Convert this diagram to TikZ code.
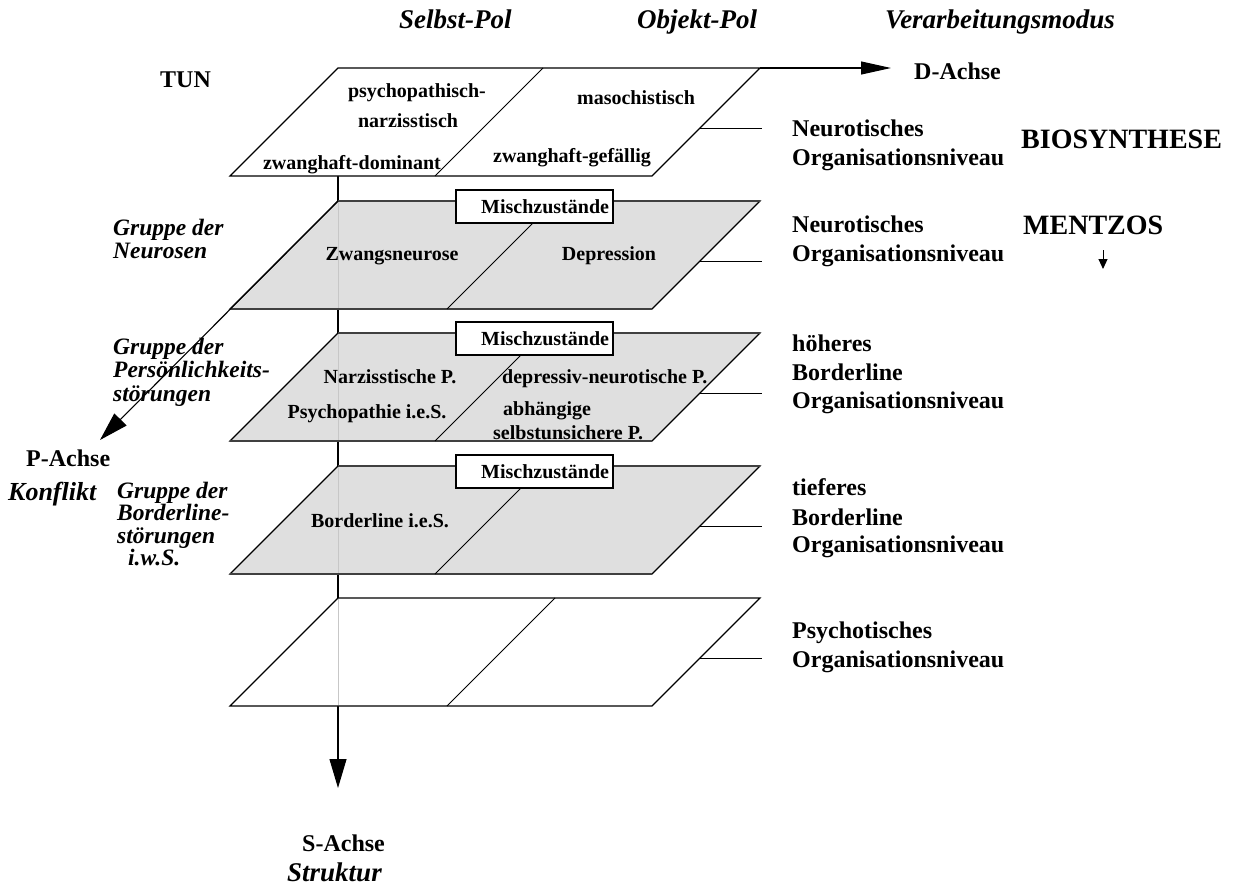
\documentclass[tikz,border=0pt]{standalone}
\usepackage{fontspec}
\setmainfont{Liberation Serif}
\usetikzlibrary{arrows.meta}
\begin{document}
\begin{tikzpicture}[x=1pt,y=-1pt,
  outline/.style={draw=black,line width=1.1pt,line join=miter},
  rim/.style={draw=black!75,line width=1.8pt},
  divline/.style={draw=black,line width=1pt},
  seethrough/.style={draw=black!22,line width=1pt},
  axisarrow/.style={draw=black,line width=1.1pt,-{Triangle[length=29pt,width=17pt]}},
  daxis/.style={draw=black,line width=1.1pt,-{Triangle[length=30pt,width=13pt]}},
  smallarrow/.style={draw=black,line width=1pt,-{Triangle[length=10pt,width=9pt]}},
  leader/.style={draw=black,line width=1pt},
  mbox/.style={draw=black,line width=1.2pt,fill=white,minimum width=157pt,minimum height=33pt,text width=149pt,align=right,inner sep=4pt,font=\fontsize{20}{23}\selectfont\bfseries},
  ptext/.style={font=\fontsize{20}{23}\selectfont\bfseries,anchor=base,inner sep=0pt},
  ptextw/.style={font=\fontsize{20}{23}\selectfont\bfseries,anchor=base west,inner sep=0pt},
  rlabel/.style={font=\fontsize{24}{28}\selectfont\bfseries,anchor=base west,inner sep=0pt},
  glabel/.style={font=\fontsize{23.5}{23}\selectfont\bfseries\itshape,anchor=base west,inner sep=0pt},
  biglabel/.style={font=\fontsize{28}{30}\selectfont\bfseries,anchor=base west,inner sep=0pt},
  axlabel/.style={font=\fontsize{27}{30}\selectfont\bfseries\itshape,anchor=base west,inner sep=0pt}
]
\useasboundingbox (0,0) rectangle (1233,888);

% plane geometry
\foreach \k/\t/\d in {1/68/435,2/201/447,3/333/435,4/466/435,5/598/447}{
  \coordinate (tl\k) at (338,\t);
  \coordinate (tr\k) at (760,\t);
  \coordinate (br\k) at (652,\t+108);
  \coordinate (bl\k) at (230,\t+108);
  \coordinate (db\k) at (\d,\t+108);
  \coordinate (dt\k) at (\d+108,\t);
  \coordinate (ls\k) at (700,\t+60);
  \coordinate (le\k) at (762,\t+60);
}
\coordinate (stip) at (338,788);
\coordinate (ptip) at (100,440);
\coordinate (dtip) at (891,68);

% S axis (behind the planes)
\draw[axisarrow] (tl1 |- bl1) -- (stip);

% planes
\foreach \k/\f in {1/white,2/gray!25,3/gray!25,4/gray!25,5/white}{
  \filldraw[outline,fill=\f] (tl\k) -- (tr\k) -- (br\k) -- (bl\k) -- cycle;
}
\foreach \k in {2,3,4}{
  \draw[rim] (tl\k) -- (tr\k);
  \draw[rim] (bl\k) -- (br\k);
}
\foreach \k in {2,3,4,5}{
  \draw[seethrough] ([yshift=-1pt]tl\k) -- ([yshift=1pt]tl\k |- bl\k);
}
\foreach \k in {1,...,5}{
  \draw[divline] (db\k) -- (dt\k);
  \draw[leader] (ls\k) -- (le\k);
}

% P and D axes
\draw[axisarrow] (tl2) -- (ptip);
\draw[daxis] (tr1) -- (dtip);

% Mischzustaende boxes
\foreach \k/\t in {2/201,3/333,4/466}{
  \node[mbox] (mz\k) at (534.5,\t+5.5) {Mischzustände};
}

% headers
\node[axlabel] (hself) at (399,29) {Selbst-Pol};
\node[axlabel] (hobj) at (637,29) {Objekt-Pol};
\node[axlabel] (hmod) at (885,29) {Verarbeitungsmodus};

% plane 1 texts
\node[ptext] (t1a) at (417,98) {psychopathisch-};
\node[ptext] (t1b) at (408,128) {narzisstisch};
\node[ptext] (t1c) at (352,169) {zwanghaft-dominant};
\node[ptext] (t1d) at (636,105) {masochistisch};
\node[ptext] (t1e) at (572,162) {zwanghaft-gefällig};

% plane 2 texts
\node[ptext] (t2a) at (392,260) {Zwangsneurose};
\node[ptext] (t2b) at (609,260) {Depression};

% plane 3 texts
\node[ptext] (t3a) at (390,383) {Narzisstische P.};
\node[ptext] (t3b) at (367,418) {Psychopathie i.e.S.};
\node[ptextw] (t3c) at (502,383) {depressiv-neurotische P.};
\node[ptextw] (t3d) at (503,415) {abhängige};
\node[ptextw] (t3e) at (493,439) {selbstunsichere P.};

% plane 4 texts
\node[ptext] (t4a) at (380,527) {Borderline i.e.S.};

% left labels
\node[rlabel] (tun) at (160,88) {TUN};
\node[glabel] (g1a) at (113,235) {Gruppe der};
\node[glabel] (g1b) at (113,258) {Neurosen};
\node[glabel] (g2a) at (113,354) {Gruppe der};
\node[glabel] (g2b) at (113,377) {Persönlichkeits-};
\node[glabel] (g2c) at (113,401) {störungen};
\node[rlabel] (pach) at (26,466) {P-Achse};
\node[axlabel,font=\fontsize{26}{30}\selectfont\bfseries\itshape] (konf) at (8,500) {Konflikt};
\node[glabel] (g3a) at (117,498) {Gruppe der};
\node[glabel] (g3b) at (117,520) {Borderline-};
\node[glabel] (g3c) at (117,543) {störungen};
\node[glabel] (g3d) at (128,565) {i.w.S.};

% bottom labels
\node[rlabel] (sach) at (302,851) {S-Achse};
\node[axlabel] (strk) at (287,881) {Struktur};

% right labels
\node[rlabel] (dach) at (914,80) {D-Achse};
\node[rlabel] (r1a) at (792,136) {Neurotisches};
\node[rlabel] (r1b) at (792,165) {Organisationsniveau};
\node[biglabel] (bios) at (1021,148) {BIOSYNTHESE};
\node[rlabel] (r2a) at (792,232) {Neurotisches};
\node[rlabel] (r2b) at (792,261) {Organisationsniveau};
\node[biglabel] (ment) at (1023,234) {MENTZOS};
\coordinate (ma1) at (1103,250);
\coordinate (ma2) at (1103,269);
\draw[smallarrow] (ma1) -- (ma2);
\node[rlabel] (r3a) at (792,351) {höheres};
\node[rlabel] (r3b) at (792,380) {Borderline};
\node[rlabel] (r3c) at (792,408) {Organisationsniveau};
\node[rlabel] (r4a) at (792,495) {tieferes};
\node[rlabel] (r4b) at (792,525) {Borderline};
\node[rlabel] (r4c) at (792,552) {Organisationsniveau};
\node[rlabel] (r5a) at (792,638) {Psychotisches};
\node[rlabel] (r5b) at (792,667) {Organisationsniveau};
\end{tikzpicture}
\end{document}
